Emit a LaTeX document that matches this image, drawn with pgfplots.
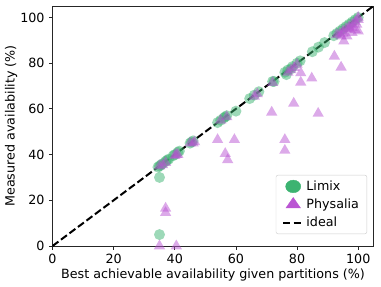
\documentclass[border=0pt]{standalone}
\usepackage{pgfplots}
\pgfplotsset{compat=1.18}
\usepackage{fontspec}
\setmainfont{DejaVu Sans}
\definecolor{limix}{RGB}{60,179,113}
\definecolor{phys}{RGB}{186,85,211}
\begin{document}
\fontsize{12.7bp}{15bp}\selectfont
\begin{tikzpicture}
\begin{axis}[
  scale only axis,
  width=321bp, height=240bp,
  xmin=0, xmax=105, ymin=0, ymax=105,
  xtick={0,20,40,60,80,100}, ytick={0,20,40,60,80,100},
  /pgf/number format/assume math mode=true,
  tick label style={font=\fontsize{12.7bp}{15bp}\selectfont},
  label style={font=\fontsize{12.7bp}{15bp}\selectfont},
  xlabel={Best achievable availability given partitions (\%)},
  ylabel={Measured availability (\%)},
  xlabel style={yshift=3bp},
  ylabel style={yshift=-5.5bp},
  axis line style={line width=0.8bp, black!85},
  tick style={line width=0.8bp, black!85},
  tick align=outside, tick pos=left,
  major tick length=3.5bp,
  clip=true,
  legend style={at={(0.98,0.05)}, anchor=south east, draw=black!20, rounded corners=2bp,
    font=\fontsize{12.7bp}{15bp}\selectfont, row sep=2.5bp, inner xsep=6bp, inner ysep=3.5bp},
  legend cell align=left,
  legend image post style={xscale=1.2},
]
\addlegendimage{only marks, color=limix, mark=*, mark size=6.3bp, mark options={fill=limix, draw=limix}}
\addlegendentry{Limix}
\addlegendimage{only marks, color=phys, mark=triangle*, mark size=7bp, mark options={fill=phys, draw=phys}}
\addlegendentry{Physalia}
\addlegendimage{black, line width=2bp, dash pattern=on 7.4bp off 3.2bp}
\addlegendentry{ideal}

\addplot[forget plot, only marks, color=limix, mark=*, mark size=5.5bp, mark options={fill=limix, draw opacity=0, fill opacity=0.5}] coordinates {
(34.5,34.5) (35,30) (35,5) (35,35) (35.5,35.5) (36,36) (37,37) (37.5,37.5) (38,38)
(39.5,39.5) (40,40) (41,41) (41.5,41.5) (45,45) (45.5,45.5) (46,46)
(54,54) (55,55) (56,56) (56.5,56.5) (57,57) (60,59) (64.5,64.5) (66,66) (67.5,67.5)
(72,72) (72.5,72) (76,76) (76.5,75) (77,77) (78,77.5) (78.5,78.5) (80,80) (81,81)
(85,85) (87,87) (89,89) (92,92) (93,93) (94,94) (95,95) (96,96) (97,97) (98,98) (99,99) (100,100)
};
\addplot[forget plot, only marks, color=phys, mark=triangle*, mark size=6.5bp, mark options={fill=phys, draw opacity=0, fill opacity=0.5}] coordinates {
(35,0) (40.5,0) (37,16.5) (37,14.6)
(54,46.5) (59.5,46.5) (56.5,40.4) (57.3,37.7)
(71.7,58.5) (76,46.5) (76,41.8) (78.9,62.4) (86.9,58)
(81.2,71.6) (81.2,75.7) (84.8,73.4) (92.2,83) (94.4,78.2)
(94.4,91.8) (95.3,89.6) (96.3,91.8) (98,93.3) (99,94.7) (100,94) (99.5,97)
(35,35) (36,35.5) (37,36.5) (40,39.5) (40.5,40) (41,40) (45,45) (46,45) (46.5,45.5)
(55,55) (57,56.5) (66,65.5) (67,66.5) (72,71.5) (77,76) (78,77) (79,78) (80,79.5)
(93,92.5) (94,93) (95,94) (96,95) (97,96) (98,97) (99,98) (100,99) (100,100) (97,95) (98,95.5) (95,93)
};
\addplot[forget plot, black, line width=2bp, dash pattern=on 7.4bp off 3.2bp] coordinates {(0,0) (105,105)};
\end{axis}
\pgfresetboundingbox
\path (current axis.south west) ++(-52.5bp,-41bp) rectangle ++(381bp,287bp);
\end{tikzpicture}
\end{document}
